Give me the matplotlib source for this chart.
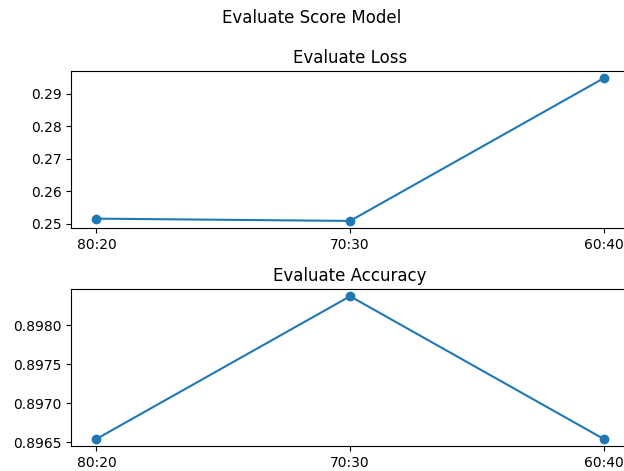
import matplotlib.pyplot as plt

# Split ratios and evaluation scores
splits = ['80:20', '70:30', '60:40']
loss = [0.2516, 0.2509, 0.2948]
accuracy = [0.89654, 0.89837, 0.89654]

fig, (ax1, ax2) = plt.subplots(2, 1, figsize=(6.24, 4.71), dpi=100)
fig.subplots_adjust(left=0.114, right=1.008, top=0.849, bottom=0.053, hspace=0.389)
fig.suptitle('Evaluate Score Model')

ax1.plot(splits, loss, marker='o')
ax1.set_title('Evaluate Loss')

ax2.plot(splits, accuracy, marker='o')
ax2.set_title('Evaluate Accuracy')

plt.savefig('out.png')
